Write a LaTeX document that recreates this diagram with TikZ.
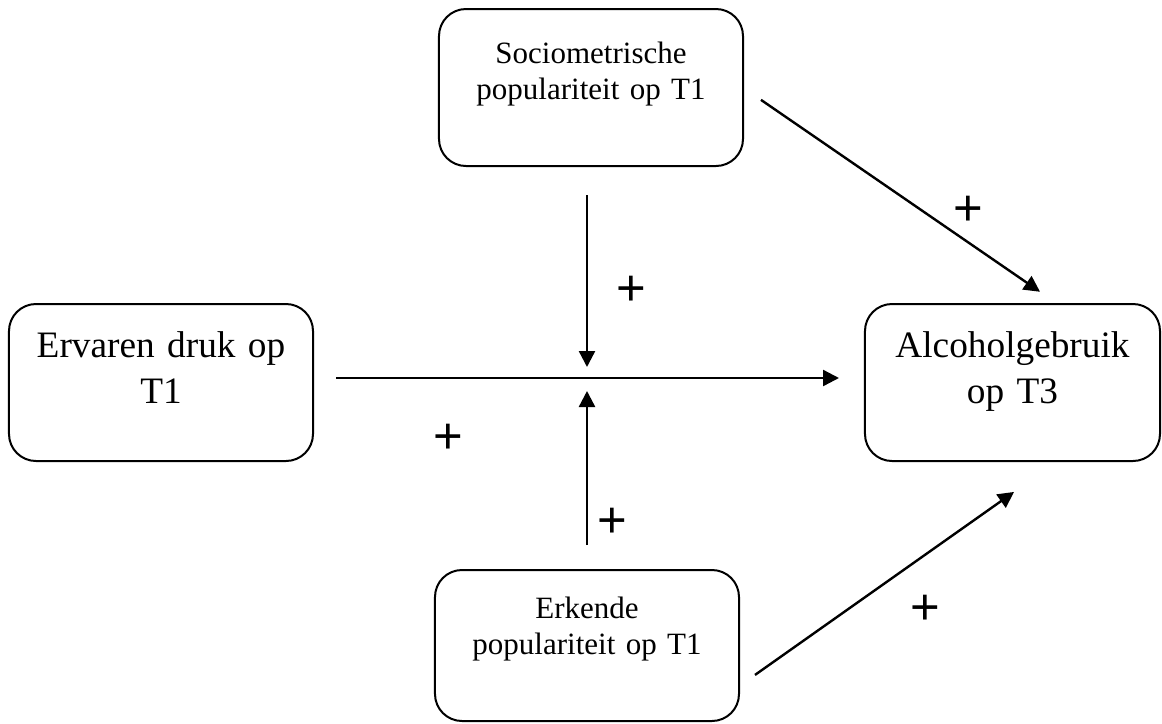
\documentclass[tikz,border=0pt]{standalone}
\usepackage{fontspec}
\setmainfont{Liberation Serif}
\newfontfamily\plusfont{Liberation Sans}
\usetikzlibrary{matrix,arrows.meta}

\begin{document}
\begin{tikzpicture}[x=0.5pt,y=-0.5pt,
box/.style={draw,line width=1pt,rounded corners=13.5pt,inner sep=0pt,outer sep=0pt,align=center},
smallbox/.style={box,text width=152pt,text depth=51.5pt,font=\fontsize{15.5}{18.25}\selectfont},
bigbox/.style={box,text height=26.5pt,text depth=52pt,font=\fontsize{18.65}{23.25}\selectfont},
sign/.style={inner sep=0pt,yshift=-1.5pt,font=\plusfont\fontsize{25.4}{30}\selectfont},
>={Triangle[length=8pt,width=8pt]}]
\useasboundingbox (0,0) rectangle (1162,723);
\matrix (m) [anchor=north west,inner sep=0pt,outer sep=0pt,
column sep=60pt,row sep=68pt] at (8,8)
{ & \node[smallbox,text height=27pt,xshift=2pt] (soc) {Sociometrische\\populariteit op T1}; & \\
\node[bigbox,text width=152pt] (erv) {Ervaren druk op\\T1}; & &
\node[bigbox,text width=147.5pt] (alc) {Alcoholgebruik\\op T3}; \\[-14.5pt]
& \node[smallbox,text height=24pt] (erk) {Erkende\\populariteit op T1}; & \\ };
\coordinate (hs) at ([yshift=2.25pt]erv.east);
\path[->,line width=1.2pt]
(hs) edge[shorten <=11.5pt,shorten >=13pt] node[sign,pos=.245,yshift=-29pt] {+} (hs -| alc.west)
(erk |- soc.south) edge[shorten <=14.5pt,shorten >=5.5pt] node[sign,pos=.575,xshift=22pt] {+} (erk |- hs)
(erk.north) edge[shorten <=12.5pt,shorten >=6.5pt] node[sign,pos=.26,xshift=12.5pt] {+} (erk |- hs)
(soc.east) edge[shorten <=10.9pt,shorten >=10.8pt] node[sign,pos=.715,yshift=17.15pt] {+} (alc.60)
(erk.-15) edge[shorten <=9.8pt,shorten >=26.8pt] node[sign,pos=.583,yshift=-26pt] {+} (alc.-60);
\end{tikzpicture}
\end{document}
